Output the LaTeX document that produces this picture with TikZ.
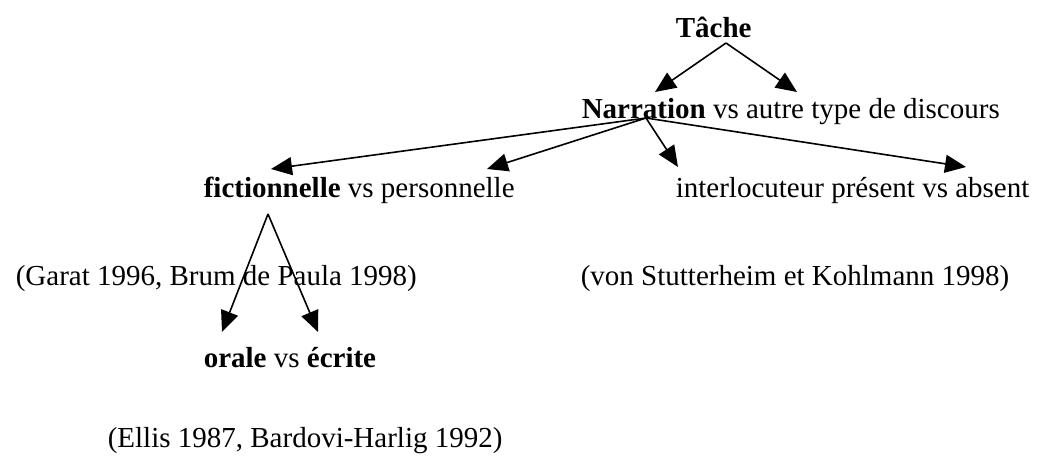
\documentclass[tikz,border=0pt]{standalone}
\usepackage{fontspec}
\setmainfont{Liberation Serif}
\usetikzlibrary{arrows.meta}
\begin{document}
\begin{tikzpicture}[x=1pt,y=-1pt,line width=1.6pt,
    tip/.style={-{Triangle[length=21pt,width=18pt]}}]

      \useasboundingbox (0,0) rectangle (1038,455);

      \begin{scope}[every node/.style={inner sep=0pt,anchor=base west,font=\fontsize{29}{34}\selectfont}]
        \node (tache)  at (675,37)  {\textbf{Tâche}};
        \node (narr)   at (581,118) {\textbf{Narration} vs autre type de discours};
        \node (fict)   at (203,197) {\textbf{fictionnelle} vs personnelle};
        \node (inter)  at (675,197) {interlocuteur présent vs absent};
        \node (garat)  at (15,285)  {(Garat 1996, Brum de Paula 1998)};
        \node (stutt)  at (580,285) {(von Stutterheim et Kohlmann 1998)};
        \node (orale)  at (203,367) {\textbf{orale} vs \textbf{écrite}};
        \node (ellis)  at (107,447) {(Ellis 1987, Bardovi-Harlig 1992)};
      \end{scope}

      \coordinate (t0) at (726,43);
      \coordinate (t1) at (655,92);
      \coordinate (t2) at (797,92);
      \coordinate (n0) at (646,118);
      \coordinate (n1) at (271,169);
      \coordinate (n2) at (487,169);
      \coordinate (n3) at (678,167);
      \coordinate (n4) at (966,167);
      \coordinate (f0) at (268,214);
      \coordinate (f1) at (222,332);
      \coordinate (f2) at (318,332);

      \begin{scope}[every edge/.style={draw,tip}]
        \path (t0) edge (t1);
        \path (t0) edge (t2);
        \path (n0) edge (n1);
        \path (n0) edge (n2);
        \path (n0) edge (n3);
        \path (n0) edge (n4);
        \path (f0) edge (f1);
        \path (f0) edge (f2);
      \end{scope}

    \end{tikzpicture}
\end{document}
